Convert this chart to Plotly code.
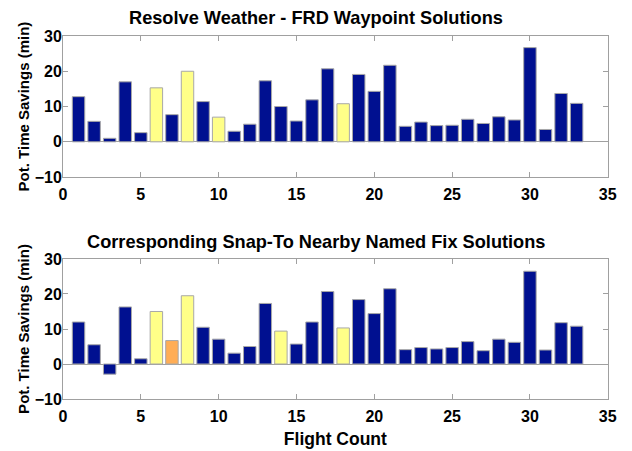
"""FRD waypoint vs snap-to named fix time savings"""
import plotly.graph_objects as go
from plotly.subplots import make_subplots

flights = list(range(1, 34))

# potential time savings (min), top panel: FRD waypoint solutions
frd_savings = [12.8, 5.8, 1.0, 17.0, 2.6, 15.3, 7.7, 20.0, 11.4, 7.0,
               3.0, 5.0, 17.3, 10.0, 5.9, 11.9, 20.7, 10.8, 19.1, 14.3,
               21.7, 4.4, 5.6, 4.6, 4.7, 6.4, 5.2, 7.1, 6.2, 26.7,
               3.5, 13.7, 10.9]
# bottom panel: snap-to nearby named fix
fix_savings = [12.0, 5.5, -2.9, 16.3, 1.5, 15.0, 6.7, 19.5, 10.5, 7.1,
               3.1, 5.0, 17.3, 9.4, 5.7, 12.0, 20.7, 10.3, 18.4, 14.4,
               21.5, 4.1, 4.7, 4.3, 4.7, 6.4, 3.8, 7.1, 6.2, 26.5,
               4.0, 11.8, 10.8]

# bar category per flight: n = normal, y = yellow, o = orange
frd_class = ['n'] * 33
for i in (6, 8, 10, 18):
    frd_class[i - 1] = 'y'
fix_class = ['n'] * 33
for i in (6, 8, 14, 18):
    fix_class[i - 1] = 'y'
fix_class[7 - 1] = 'o'

titles = ["Resolve Weather - FRD Waypoint Solutions",
          "Corresponding Snap-To Nearby Named Fix Solutions"]
x_ticks = [0, 5, 10, 15, 20, 25, 30, 35]
y_ticks = [-10, 0, 10, 20, 30]

palette = {'n': '#001090', 'y': '#ffff88', 'o': '#ffad55'}
FONT = "Liberation Sans, Arial, sans-serif"

fig = make_subplots(rows=2, cols=1)

for row, (vals, cls) in enumerate([(frd_savings, frd_class), (fix_savings, fix_class)], start=1):
    fig.add_trace(go.Bar(
        x=flights, y=vals, width=0.8,
        marker=dict(color=[palette[c] for c in cls],
                    line=dict(color='#a8a8a8', width=1)),
        showlegend=False,
    ), row=row, col=1)

ax_common = dict(showline=True, linecolor='#a0a0a0', linewidth=1, mirror='ticks',
                 ticks='inside', ticklen=5, tickcolor='#a0a0a0', showgrid=False,
                 automargin=False,
                 tickfont=dict(family=FONT, size=16, color='black', weight='bold'))

# page body adds an 8px offset, domains are shifted to compensate
fig.update_xaxes(range=[0, 35], tickvals=x_ticks, zeroline=False,
                 domain=[0.087, 0.949], ticklabelstandoff=3, **ax_common)
fig.update_yaxes(range=[-10, 30], tickvals=y_ticks, zeroline=True,
                 zerolinecolor='#a0a0a0', zerolinewidth=1, ticklabelstandoff=-3, **ax_common,
                 title=dict(text="Pot. Time Savings (min)", standoff=1,
                            font=dict(family=FONT, size=15, color='black', weight='bold')))
fig.update_yaxes(domain=[0.625, 0.938], row=1, col=1)
fig.update_yaxes(domain=[0.133, 0.4435], row=2, col=1)
fig.update_xaxes(title=dict(text="Flight Count", standoff=8,
                            font=dict(family=FONT, size=17.5, color='black', weight='bold')),
                 row=2, col=1)

for title, ypos in zip(titles, [0.978, 0.481]):
    fig.add_annotation(text=title, xref='paper', yref='paper', x=0.488, y=ypos,
                       xanchor='center', yanchor='middle', showarrow=False,
                       font=dict(family=FONT, size=18.2, color='black', weight='bold'))

fig.update_layout(
    width=632, height=451,
    margin=dict(l=0, r=0, t=0, b=0),
    plot_bgcolor='white', paper_bgcolor='white',
    bargap=0.2,
)

fig.write_html("out.html")
